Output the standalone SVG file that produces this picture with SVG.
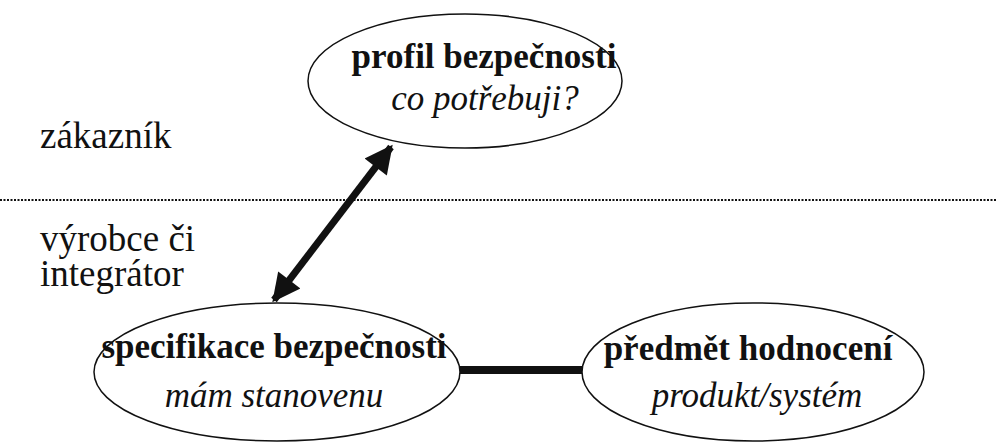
<svg xmlns="http://www.w3.org/2000/svg" width="997" height="442" viewBox="0 0 997 442">
<style>
.node{fill:#fff;stroke:#111;stroke-width:1.5}
text{font-family:'Liberation Serif','DejaVu Serif',serif;font-size:35px;fill:#111}
.r{font-size:37px}
.b{font-weight:bold}
.i{font-style:italic}
.m{text-anchor:middle}
</style>
<defs>
<marker id="ah" viewBox="0 0 10 10" refX="9" refY="5" markerWidth="4.4" markerHeight="4" orient="auto-start-reverse" markerUnits="strokeWidth">
<path d="M0,0 L10,5 L0,10 z" fill="#111"/>
</marker>
</defs>
<rect width="997" height="442" fill="#fff"/>
<line x1="0" y1="200" x2="997" y2="200" stroke="#111" stroke-width="2" stroke-dasharray="2 1.5"/>
<text class="r" x="40" y="148">zákazník</text>
<text class="r" x="40" y="251">výrobce či</text>
<text class="r" x="40" y="286">integrátor</text>
<g id="connectors">
<line x1="274" y1="300" x2="391" y2="147" stroke="#111" stroke-width="7" marker-start="url(#ah)" marker-end="url(#ah)"/>
<line x1="458" y1="370" x2="584" y2="370" stroke="#111" stroke-width="8"/>
</g>
<g id="profil">
<ellipse class="node" cx="465" cy="81" rx="157" ry="67"/>
<text class="b m" x="484" y="68">profil bezpečnosti</text>
<text class="i m" x="485" y="110">co potřebuji?</text>
</g>
<g id="specifikace">
<ellipse class="node" cx="277" cy="372" rx="183" ry="69"/>
<text class="b m" x="274" y="358">specifikace bezpečnosti</text>
<text class="i m" x="274" y="407" font-size="36">mám stanovenu</text>
</g>
<g id="predmet">
<ellipse class="node" cx="753" cy="372" rx="171" ry="69"/>
<text class="b m" x="748" y="360">předmět hodnocení</text>
<text class="i m" x="757" y="407">produkt/systém</text>
</g>
</svg>
